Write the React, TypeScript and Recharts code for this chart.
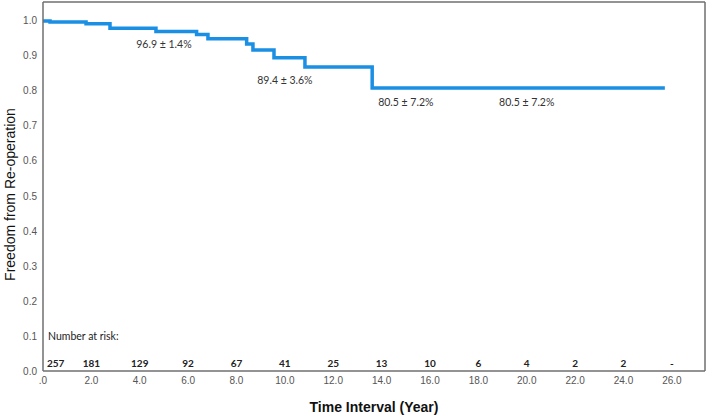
import React from 'react'
import { ComposedChart, Line, Scatter, XAxis, YAxis, ReferenceLine } from 'recharts'

// Kaplan-Meier step points (years, survival)
const times = [0, 0.29, 1.78, 2.77, 4.67, 6.35, 6.82, 8.42, 8.68, 9.55, 10.83, 13.61, 25.71]
const survival = [1.0, 0.997, 0.992, 0.979, 0.97, 0.961, 0.949, 0.934, 0.917, 0.895, 0.868, 0.808, 0.808]

const xTicks = [0, 2, 4, 6, 8, 10, 12, 14, 16, 18, 20, 22, 24, 26]
const yTicks = [0, 0.1, 0.2, 0.3, 0.4, 0.5, 0.6, 0.7, 0.8, 0.9, 1.0]

const riskTimes = [0, 2, 4, 6, 8, 10, 12, 14, 16, 18, 20, 22, 24, 26]
const riskCounts = ['257', '181', '129', '92', '67', '41', '25', '13', '10', '6', '4', '2', '2', '-']

const noteTimes = [5, 10, 15, 20]
const noteTexts = ['96.9 ± 1.4%', '89.4 ± 3.6%', '80.5 ± 7.2%', '80.5 ± 7.2%']

const X_MAX = 27.37
const Y_MAX = 1.054
const LINE_BLUE = '#1a8fe3'
const FRAME = '#6f6f6f'

const curve = times.map((t, i) => ({ t, s: survival[i] }))

// survival value at time t (step function)
const survAt = (t: number) => {
    let v = survival[0]
    times.forEach((tt, i) => { if (tt <= t) v = survival[i] })
    return v
}

const noteOffsets = [17, 26, 18, 18]
const notes = noteTimes.map((t, i) => ({ t, y: survAt(t), text: noteTexts[i], dy: noteOffsets[i] }))
const risk = riskTimes.map((t, i) => ({ t, y: 0.023, n: riskCounts[i], first: i === 0 }))
const riskTitle = [{ t: 0, y: 0.1 }]

const tickStyle = { fontFamily: 'Liberation Sans, Arial, sans-serif', fontSize: 10, fill: '#555' }

export default function App() {
    return (
        <div style={{ position: 'absolute', left: 0, top: 0, background: '#fff' }}>
            <ComposedChart
                width={708}
                height={416}
                margin={{ top: 2, right: 3, left: 15, bottom: 0 }}
            >
                <XAxis
                    dataKey="t"
                    type="number"
                    domain={[0, X_MAX]}
                    ticks={xTicks}
                    tickFormatter={(v: number) => (v === 0 ? '.0' : v.toFixed(1))}
                    tick={tickStyle}
                    tickLine={false}
                    tickSize={0}
                    tickMargin={6}
                    height={45}
                    axisLine={{ stroke: FRAME, strokeWidth: 1.5 }}
                    label={{
                        content: (p: any) => (
                            <text
                                x={p.viewBox.x + p.viewBox.width / 2}
                                y={p.viewBox.y + 41}
                                textAnchor="middle"
                                fontFamily="Liberation Sans, Arial, sans-serif"
                                fontWeight="bold"
                                fontSize={14}
                                fill="#111"
                            >
                                Time Interval (Year)
                            </text>
                        )
                    }}
                />
                <YAxis
                    type="number"
                    domain={[0, Y_MAX]}
                    ticks={yTicks}
                    tickFormatter={(v: number) => v.toFixed(1)}
                    tick={tickStyle}
                    tickLine={false}
                    tickSize={0}
                    tickMargin={6}
                    width={28}
                    axisLine={{ stroke: FRAME, strokeWidth: 1.5 }}
                    label={{
                        content: (p: any) => {
                            const cx = 15
                            const cy = p.viewBox.y + p.viewBox.height / 2 + 8
                            return (
                                <text
                                    x={cx}
                                    y={cy}
                                    transform={`rotate(-90, ${cx}, ${cy})`}
                                    textAnchor="middle"
                                    fontFamily="Liberation Sans, Arial, sans-serif"
                                    fontSize={14}
                                    fill="#111"
                                >
                                    Freedom from Re-operation
                                </text>
                            )
                        }
                    }}
                />

                {/* top and right edges of the frame */}
                <ReferenceLine y={Y_MAX} stroke={FRAME} strokeWidth={1.5} ifOverflow="extendDomain" />
                <ReferenceLine x={X_MAX} stroke={FRAME} strokeWidth={1.5} ifOverflow="extendDomain" />

                <Line
                    data={curve}
                    dataKey="s"
                    type="stepAfter"
                    stroke={LINE_BLUE}
                    strokeWidth={3.5}
                    dot={false}
                    activeDot={false}
                    isAnimationActive={false}
                />

                <Scatter
                    data={notes}
                    dataKey="y"
                    isAnimationActive={false}
                    shape={(p: any) => (
                        <text
                            x={p.cx}
                            y={p.cy + p.payload.dy}
                            textAnchor="middle"
                            fontFamily="Lato, sans-serif"
                            fontSize={10.5}
                            fill="#333"
                        >
                            {p.payload.text}
                        </text>
                    )}
                />

                <Scatter
                    data={riskTitle}
                    dataKey="y"
                    isAnimationActive={false}
                    shape={(p: any) => (
                        <text
                            x={p.cx + 5}
                            y={p.cy + 4}
                            fontFamily="Lato, sans-serif"
                            fontSize={10.5}
                            fill="#222"
                        >
                            Number at risk:
                        </text>
                    )}
                />

                <Scatter
                    data={risk}
                    dataKey="y"
                    isAnimationActive={false}
                    shape={(p: any) => (
                        <text
                            x={p.payload.first ? p.cx + 4 : p.cx}
                            y={p.cy + 4}
                            textAnchor={p.payload.first ? 'start' : 'middle'}
                            fontFamily="Lato, sans-serif"
                            fontWeight="bold"
                            fontSize={10}
                            fill="#222"
                        >
                            {p.payload.n}
                        </text>
                    )}
                />
            </ComposedChart>
        </div>
    )
}
